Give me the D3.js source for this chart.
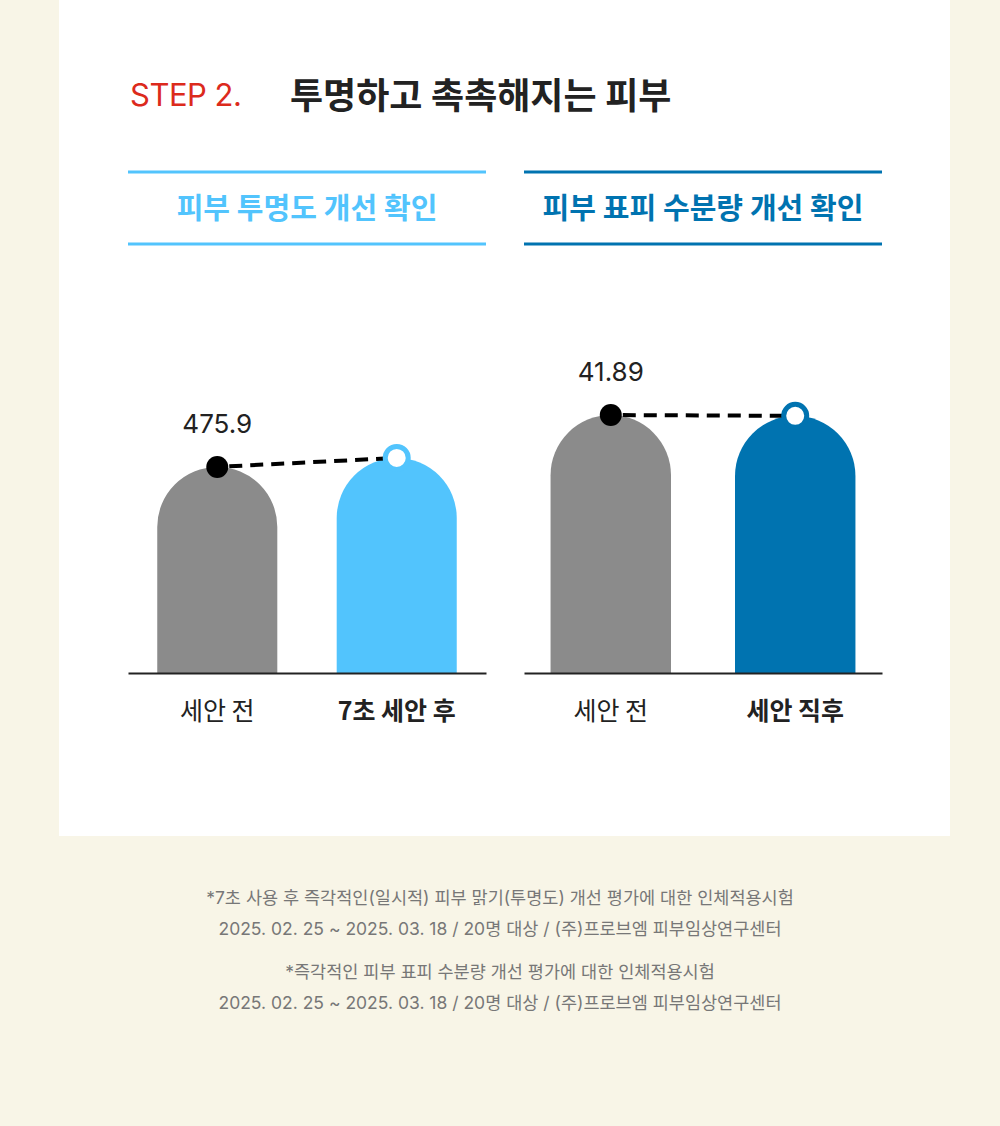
<!DOCTYPE html>
<html><head><meta charset="utf-8">
<script src="https://cdn.jsdelivr.net/npm/d3@7/dist/d3.min.js"></script>
<style>
html,body{margin:0;padding:0;background:#f8f5e7;}
svg{display:block;font-family:"Inter","Noto Sans CJK KR",sans-serif;}
</style></head>
<body><svg id="c" width="1000" height="1126"></svg>
<script>
// ---- data ----
const titleStep = "STEP 2.";
const titleMain = "투명하고 촉촉해지는 피부";
const chartTitles = ["피부 투명도 개선 확인", "피부 표피 수분량 개선 확인"];
const categoriesA = ["세안 전", "7초 세안 후"];
const categoriesB = ["세안 전", "세안 직후"];
const valuesA = [475.9, 496.7];
const valuesB = [41.89, 41.75];
const valueLabelsA = ["475.9", ""];
const valueLabelsB = ["41.89", ""];
const footnotes = [
  "*7초 사용 후 즉각적인(일시적) 피부 맑기(투명도) 개선 평가에 대한 인체적용시험",
  "2025. 02. 25 ~ 2025. 03. 18 / 20명 대상 / (주)프로브엠 피부임상연구센터",
  "*즉각적인 피부 표피 수분량 개선 평가에 대한 인체적용시험",
  "2025. 02. 25 ~ 2025. 03. 18 / 20명 대상 / (주)프로브엠 피부임상연구센터"
];

const svg = d3.select("#c");
svg.append("rect").attr("x",0).attr("y",0).attr("width",1000).attr("height",1126).attr("fill","#f8f5e7");
svg.append("rect").attr("x",59).attr("y",0).attr("width",891).attr("height",836).attr("fill","#ffffff");

svg.append("text").attr("x",130).attr("y",106).attr("fill","#dc2a1c")
  .attr("font-size",31).attr("font-family","Inter, sans-serif").attr("letter-spacing","-0.5").text(titleStep);
svg.append("text").attr("x",290).attr("y",109).attr("fill","#222")
  .attr("font-size",36).attr("font-weight",700).attr("letter-spacing","0").text(titleMain);

const charts = [
  {cats:categoriesA, vals:valuesA, labels:valueLabelsA, title:chartTitles[0], color:"#52c4fd",
   x0:128, x1:486, max:769, pi:0.331, po:0.163},
  {cats:categoriesB, vals:valuesB, labels:valueLabelsB, title:chartTitles[1], color:"#0073b0",
   x0:524, x1:882, max:54.07, pi:0.347, po:0.144}
];
const baseY = 673, topY = 340;

charts.forEach(c => {
  const g = svg.append("g");
  // header
  [172,244].forEach(yy => g.append("line").attr("x1",c.x0).attr("x2",c.x1).attr("y1",yy).attr("y2",yy)
     .attr("stroke",c.color).attr("stroke-width",3));
  g.append("text").attr("x",(c.x0+c.x1)/2).attr("y",219).attr("text-anchor","middle")
    .attr("fill",c.color).attr("font-size",29).attr("font-weight",700).attr("letter-spacing","0").text(c.title);

  const x = d3.scaleBand().domain(c.cats).range([c.x0, c.x1]).paddingInner(c.pi).paddingOuter(c.po);
  const y = d3.scaleLinear().domain([0, c.max]).range([baseY, topY]);
  const bw = x.bandwidth(), r = bw/2;
  const fills = ["#8b8b8b", c.color];

  c.cats.forEach((cat,i) => {
    const xl = x(cat), yt = y(c.vals[i]);
    const p = d3.path();
    p.moveTo(xl, baseY);
    p.lineTo(xl, yt + r);
    p.arc(xl + r, yt + r, r, Math.PI, 2*Math.PI);
    p.lineTo(xl + bw, baseY);
    p.closePath();
    g.append("path").attr("d", p.toString()).attr("fill", fills[i]);
  });

  // axis
  const ax = g.append("g").attr("transform",`translate(0,${baseY})`)
    .call(d3.axisBottom(x).tickSize(0).tickPadding(29));
  ax.select(".domain").attr("stroke","#222").attr("stroke-width",2);
  ax.selectAll(".tick text").attr("fill","#222").attr("font-size",25)
    .attr("font-family","'Noto Sans CJK KR', sans-serif").attr("letter-spacing","0")
    .attr("font-weight",(d,i)=> i===1 ? 700 : 400).attr("dy","0.71em");

  // dashed connector
  const cx0 = x(c.cats[0]) + r, cy0 = y(c.vals[0]);
  const cx1 = x(c.cats[1]) + r, cy1 = y(c.vals[1]);
  g.append("line").attr("x1",cx0).attr("y1",cy0).attr("x2",cx1).attr("y2",cy1)
    .attr("stroke","#000").attr("stroke-width",4).attr("stroke-dasharray","13 8").attr("stroke-dashoffset",-12);
  g.append("circle").attr("cx",cx0).attr("cy",cy0).attr("r",11).attr("fill","#000");
  g.append("circle").attr("cx",cx1).attr("cy",cy1).attr("r",11.5).attr("fill","#fff")
    .attr("stroke",c.color).attr("stroke-width",5);

  c.labels.forEach((lab,i) => {
    if(!lab) return;
    g.append("text").attr("x", x(c.cats[i]) + r).attr("y", y(c.vals[i]) - 34)
      .attr("text-anchor","middle").attr("fill","#222").attr("font-size",26)
      .attr("font-family","Inter, sans-serif").text(lab);
  });
});

const fy = [904, 935, 978, 1009];
footnotes.forEach((t,i) => {
  svg.append("text").attr("x",500).attr("y",fy[i]).attr("text-anchor","middle")
    .attr("fill","#777").attr("font-size",17.5).attr("letter-spacing","0").text(t);
});
</script></body></html>
